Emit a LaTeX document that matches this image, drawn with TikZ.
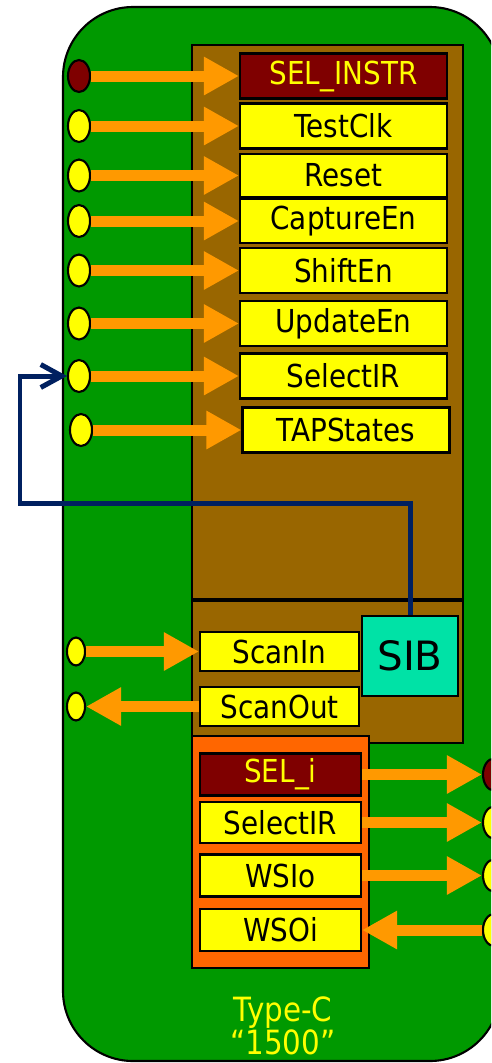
\documentclass[tikz,border=0pt]{standalone}
\usepackage{fontspec}
\setmainfont{DejaVu Sans}
\newfontfamily\narrowsans[FakeStretch=0.88]{DejaVu Sans}
\usepackage{xcolor}
\usepackage{tikz}
\usetikzlibrary{arrows.meta, positioning, shapes.geometric, calc}

\definecolor{chipgreen}{HTML}{009900}
\definecolor{tapbrown}{HTML}{996600}
\definecolor{wireorange}{HTML}{FF6600}
\definecolor{arroworange}{HTML}{FF9900}
\definecolor{sigyellow}{HTML}{FFFF00}
\definecolor{seldark}{HTML}{7F0000}
\definecolor{sibgreen}{HTML}{00E2A6}
\definecolor{pathblue}{HTML}{002060}

\begin{document}
\begin{tikzpicture}[
    x=0.02cm, y=-0.02cm,
    sigbox/.style={draw, line width=1.2pt, fill=sigyellow, minimum width=4.14cm, minimum height=0.9cm, inner sep=0pt, font=\narrowsans\fontsize{18pt}{20pt}\selectfont},
    selbox/.style={sigbox, fill=seldark, text=sigyellow},
    scanbox/.style={sigbox, minimum width=3.18cm, minimum height=0.78cm},
    lowbox/.style={sigbox, minimum width=3.22cm, minimum height=0.84cm},
    port/.style={draw, ellipse, line width=1.2pt, fill=sigyellow, minimum width=0.44cm, minimum height=0.64cm, inner sep=0pt},
    smallport/.style={port, minimum width=0.36cm, minimum height=0.56cm},
    sigarrow/.style={draw=arroworange, line width=0.22cm, -{Triangle[length=0.7cm, width=0.72cm]}},
    selpath/.style={draw=pathblue, line width=0.1cm, -{Straight Barb[length=0.42cm, width=0.46cm]}},
]
\useasboundingbox (0,0) rectangle (491,1063);
\clip (0,0) rectangle (491,1063);

% Module body
\draw[line width=1.2pt, fill=chipgreen, rounded corners=1.4cm] (63,7) rectangle (500,1061);
\draw[line width=1.5pt, fill=tapbrown] (192,45) rectangle (463,599);
\draw[line width=1.5pt, fill=tapbrown] (192,601) rectangle (463,743);
\draw[line width=1.5pt, fill=wireorange] (192,736) rectangle (369,968);

% TAP signals
\node[selbox] (instr) at (343.5,76) {SEL\_INSTR};
\node[sigbox] (clk) at (343.5,126) {TestClk};
\node[sigbox, minimum height=0.86cm] (rst) at (343.5,175.5) {Reset};
\node[sigbox, minimum height=0.88cm] (cap) at (343.5,221) {CaptureEn};
\node[sigbox] (shift) at (343.5,270.5) {ShiftEn};
\node[sigbox] (upd) at (343.5,323.5) {UpdateEn};
\node[sigbox] (selir) at (343.5,376) {SelectIR};
\node[sigbox] (tap) at (346,430) {TAPStates};

\node[port, fill=seldark] (p-instr) at (79,76) {};
\node[port] (p-clk) at (79,126) {};
\node[port] (p-rst) at (79,175.5) {};
\node[port] (p-cap) at (79,221) {};
\node[port] (p-shift) at (79,270.5) {};
\node[port] (p-upd) at (79,323.5) {};
\node[port] (p-selir) at (79,376) {};
\node[port] (p-tap) at (81,430) {};

\draw[sigarrow] (p-instr.east) -- (instr.west);
\draw[sigarrow] (p-clk.east) -- (clk.west);
\draw[sigarrow] (p-rst.east) -- (rst.west);
\draw[sigarrow] (p-cap.east) -- (cap.west);
\draw[sigarrow] (p-shift.east) -- (shift.west);
\draw[sigarrow] (p-upd.east) -- (upd.west);
\draw[sigarrow] (p-selir.east) -- (selir.west);
\draw[sigarrow] (p-tap.east) -- (tap.west);

% Scan segment
\node[scanbox] (sin) at (279.5,651.5) {ScanIn};
\node[scanbox] (sout) at (279.5,706.5) {ScanOut};
\node[draw, line width=1.2pt, fill=sibgreen, minimum width=1.92cm, minimum height=1.6cm, font=\fontsize{23pt}{24pt}\selectfont] (sib) at (410,656) {SIB};

\node[smallport] (p-sin) at (76,651.5) {};
\node[smallport] (p-sout) at (76,706.5) {};

\draw[sigarrow] (p-sin.east) -- (sin.west);
\draw[sigarrow] (sout.west) -- (p-sout.east);

% SIB control back to SelectIR
\coordinate (loopturn) at (20,503);
\draw[selpath] (sib.north) |- (loopturn) |- (p-selir.west);

% Client interface
\node[lowbox, fill=seldark, text=sigyellow] (seli) at (280.5,774.5) {SEL\_i};
\node[lowbox, minimum height=0.82cm] (selir-i) at (280.5,822.5) {SelectIR};
\node[lowbox] (wsio) at (280.5,875.5) {WSIo};
\node[lowbox] (wsoi) at (280.5,930) {WSOi};

\node[port, fill=seldark] (q-seli) at (494,774.5) {};
\node[port] (q-selir) at (494,822.5) {};
\node[port] (q-wsio) at (494,875.5) {};
\node[port] (q-wsoi) at (494,930) {};

\draw[sigarrow] (seli.east) -- (q-seli.west);
\draw[sigarrow] (selir-i.east) -- (q-selir.west);
\draw[sigarrow] (wsio.east) -- (q-wsio.west);
\draw[sigarrow] (q-wsoi.west) -- (wsoi.east);

% Label
\node[font=\narrowsans\fontsize{19pt}{17pt}\selectfont, text=sigyellow, align=center] (kind) at (283,1026) {Type-C\\“1500”};

\end{tikzpicture}
\end{document}
